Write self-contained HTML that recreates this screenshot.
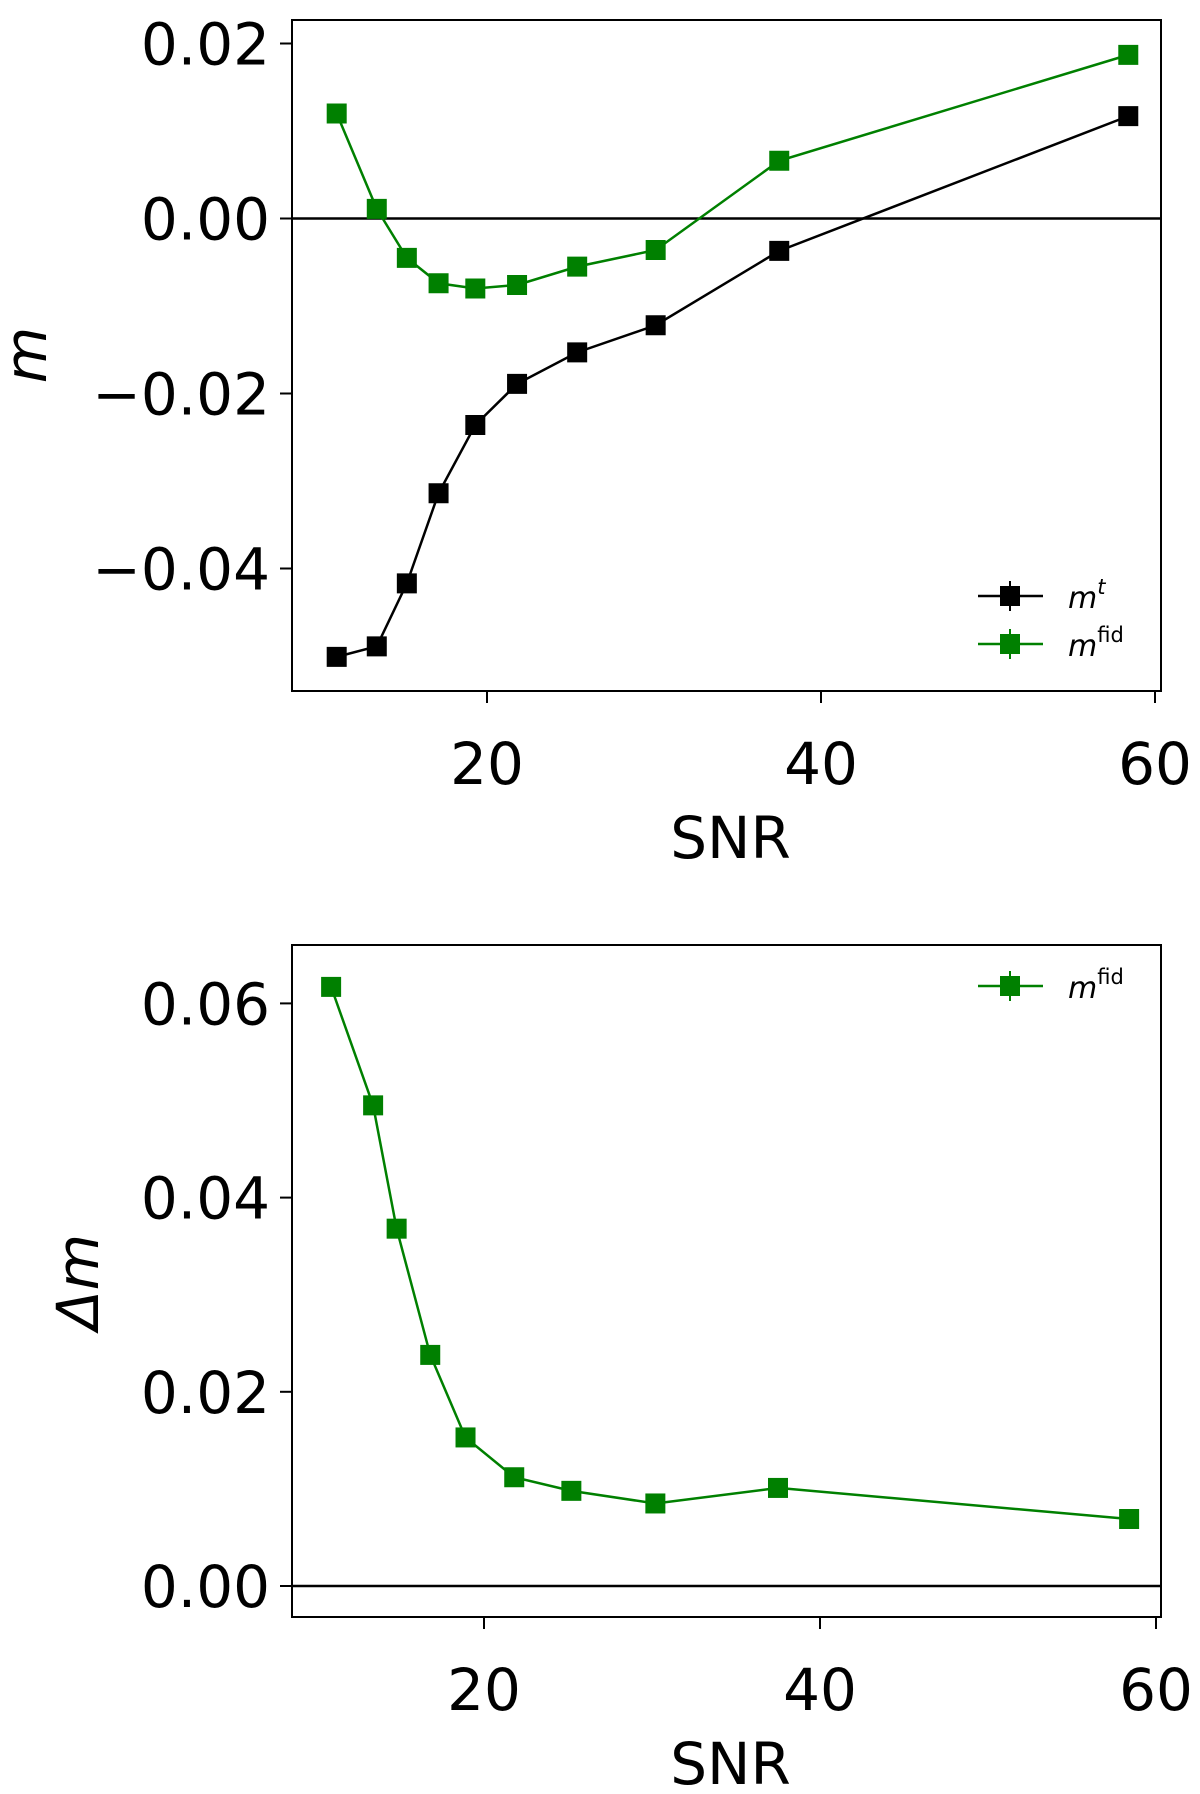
<!DOCTYPE html>
<html><head><meta charset="utf-8"><style>
html,body{margin:0;padding:0;background:#fff}
svg{display:block;font-family:"DejaVu Sans","Liberation Sans",sans-serif}
</style></head><body>
<svg id="chart" width="1200" height="1794" viewBox="0 0 1200 1794" xmlns="http://www.w3.org/2000/svg">
<g id="topPanel"></g>
<g id="botPanel"></g>
</svg>
<script>
const snr = [11.0, 13.4, 15.2, 17.1, 19.3, 21.8, 25.4, 30.1, 37.5, 58.4];
const mTrue = [-0.0501, -0.0489, -0.0417, -0.0314, -0.0236, -0.0189, -0.0153, -0.0122, -0.0037, 0.0117];
const mFid = [0.0120, 0.0011, -0.0045, -0.0074, -0.0080, -0.0076, -0.0055, -0.0036, 0.0066, 0.0187];
const snrB = [10.9, 13.4, 14.8, 16.8, 18.9, 21.8, 25.2, 30.2, 37.5, 58.4];
const dmFid = [0.0617, 0.0495, 0.0368, 0.0238, 0.0153, 0.0112, 0.0098, 0.0085, 0.0101, 0.0069];
const xTicks = [20, 40, 60];
const yTicksTop = [0.02, 0.00, -0.02, -0.04];
const yTickLabelsTop = ["0.02", "0.00", "\u22120.02", "\u22120.04"];
const yTicksBot = [0.06, 0.04, 0.02, 0.00];
const yTickLabelsBot = ["0.06", "0.04", "0.02", "0.00"];

const NS = "http://www.w3.org/2000/svg";
function mk(parent, tag, attrs, text) {
  const e = document.createElementNS(NS, tag);
  for (const k in attrs) e.setAttribute(k, attrs[k]);
  if (text !== undefined) e.textContent = text;
  parent.appendChild(e);
  return e;
}
function panel(g, P, yTicks, yLabels, series, ylabel, legend) {
  const sx = v => P.x0 + (v - P.xa) * P.kx;
  const sy = v => P.y0 - (v - P.ya) * P.ky;
  const frame = mk(g, 'rect', {x:P.left, y:P.top, width:P.right-P.left, height:P.bottom-P.top, fill:'none', stroke:'#000', 'stroke-width':2});
  
  
  const zl = mk(g, 'line', {x1:P.left, x2:P.right, y1:sy(0), y2:sy(0), stroke:'#000', 'stroke-width':2.5});
  
  
  xTicks.forEach(t => {
    const x = sx(t);
    const tk = mk(g, 'line', {x1:x, x2:x, y1:P.bottom, y2:P.bottom+12, stroke:'#000', 'stroke-width':2});
    
    
    const tl = mk(g, 'text', {x:x, y:P.bottom+93, 'font-size':58, 'text-anchor':'middle'}, String(t));
    
    
  });
  yTicks.forEach((t, i) => {
    const y = sy(t);
    const tk = mk(g, 'line', {x1:P.left-12, x2:P.left, y1:y, y2:y, stroke:'#000', 'stroke-width':2});
    
    
    const tl = mk(g, 'text', {x:P.left-22, y:y+21, 'font-size':58, 'text-anchor':'end'}, yLabels[i]);
    
    
  });
  const xt = mk(g, 'text', {x:(P.left+P.right)/2+4, y:P.bottom+167, 'font-size':58, 'text-anchor':'middle'}, 'SNR');
  
  
  const yt = mk(g, 'text', {x:0, y:0, 'font-size':58, 'text-anchor':'middle', 'font-style':ylabel.italic?'italic':'normal', transform:`translate(${ylabel.x},${ylabel.y}) rotate(-90)`}, ylabel.text);
  
  
  series.forEach(s => {
    const pts = s.x.map((v, i) => sx(v) + ',' + sy(s.y[i])).join(' ');
    const pl = mk(g, 'polyline', {points:pts, fill:'none', stroke:s.color, 'stroke-width':2.5});
    
    
    s.x.forEach((v, i) => {
      const r = mk(g, 'rect', {x:sx(v)-10, y:sy(s.y[i])-10, width:20, height:20, fill:s.color});
      
      
    });
  });
  legend.forEach(L => {
    const lg = mk(g, 'g', {});
    
    
    mk(lg, 'line', {x1:978, x2:1043, y1:L.y, y2:L.y, stroke:L.color, 'stroke-width':2.5});
    mk(lg, 'line', {x1:1010, x2:1010, y1:L.y-15, y2:L.y+15, stroke:L.color, 'stroke-width':2});
    mk(lg, 'rect', {x:1000, y:L.y-10, width:20, height:20, fill:L.color});
    const t = mk(lg, 'text', {x:1068, y:L.y+12, 'font-size':30, 'font-style':'italic'}, 'm');
    mk(t, 'tspan', {dy:-14, 'font-size':21, 'font-style':L.supItalic?'italic':'normal'}, L.sup);
  });
}
const topG = document.getElementById('topPanel');
panel(topG, {left:292, right:1161, top:20, bottom:691, x0:487, xa:20, kx:16.7, y0:218.5, ya:0, ky:8750},
  yTicksTop, yTickLabelsTop,
  [{name:'m-fid', x:snr, y:mFid, color:'#008000'}, {name:'m-t', x:snr, y:mTrue, color:'#000'}],
  {text:'m', italic:true, x:46, y:355},
  [{y:596, color:'#000', sup:'t', supItalic:true}, {y:644, color:'#008000', sup:'fid', supItalic:false}]);
const botG = document.getElementById('botPanel');
panel(botG, {left:292, right:1161, top:945, bottom:1617, x0:484, xa:20, kx:16.8, y0:1586, ya:0, ky:9710},
  yTicksBot, yTickLabelsBot,
  [{name:'dm-fid', x:snrB, y:dmFid, color:'#008000'}],
  {text:'\u0394m', italic:true, x:98, y:1282},
  [{y:986, color:'#008000', sup:'fid', supItalic:false}]);
</script>
</body></html>
